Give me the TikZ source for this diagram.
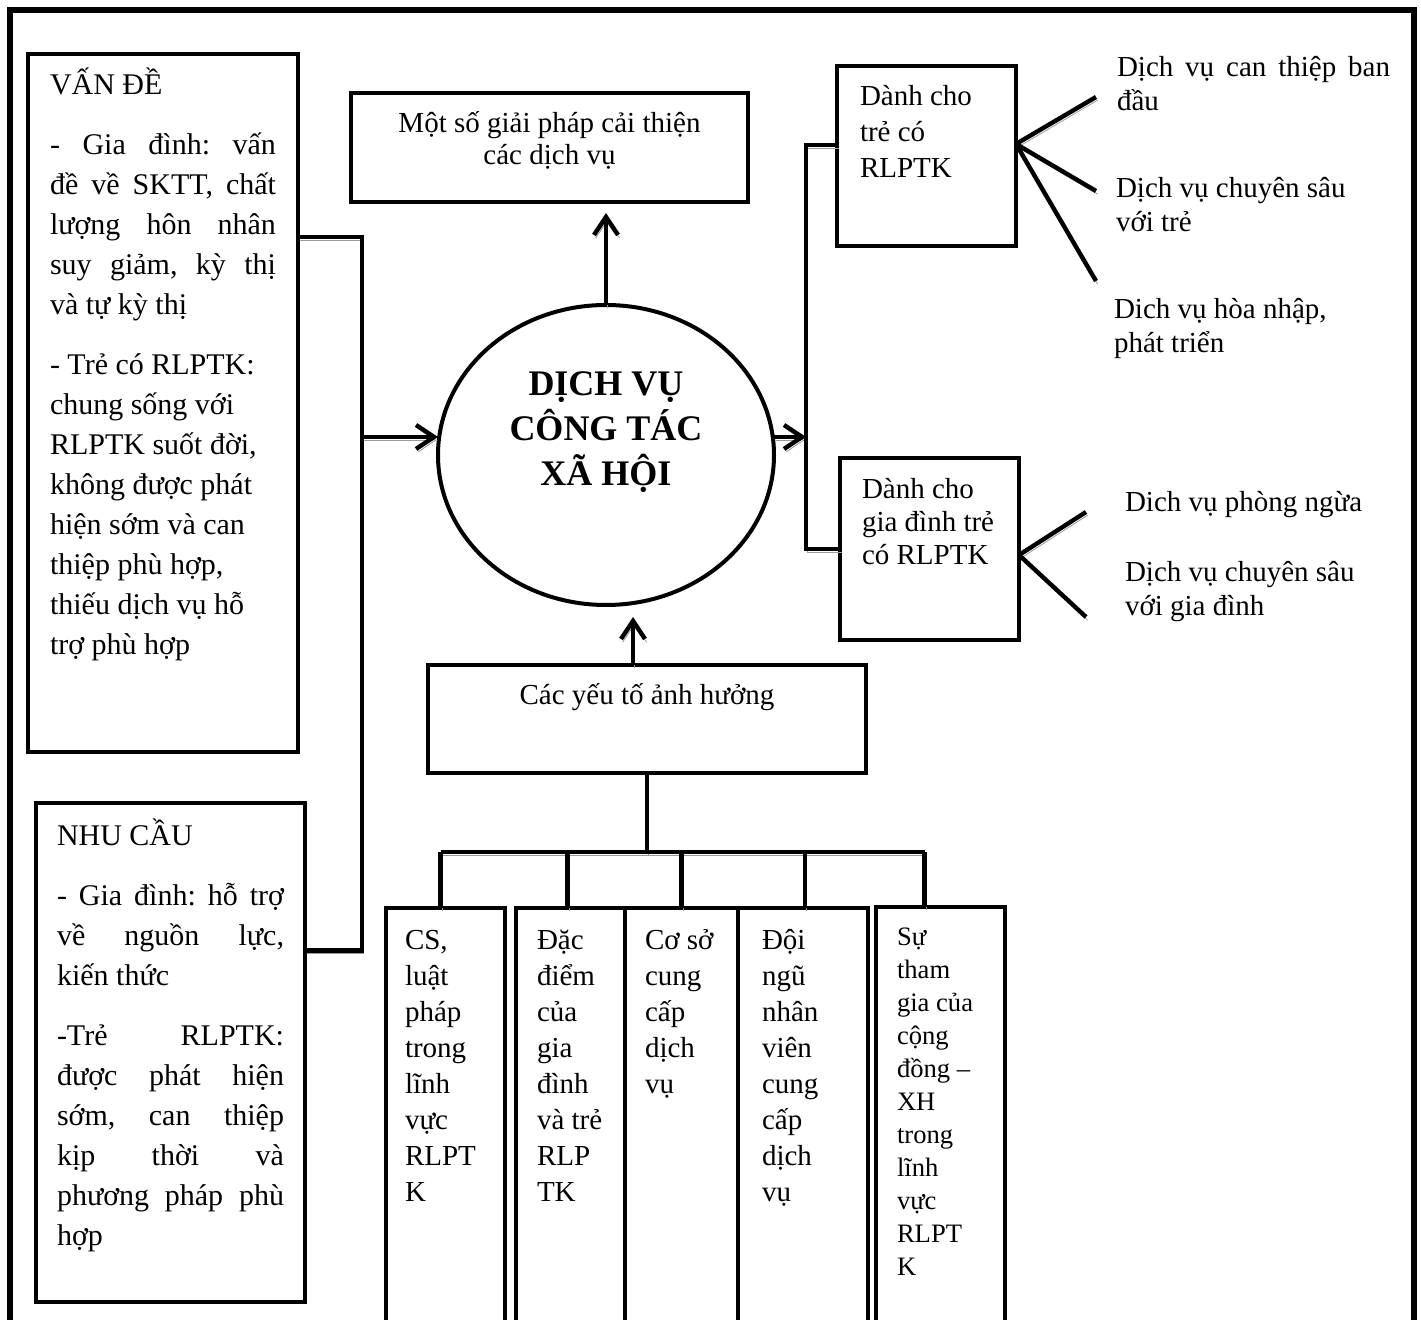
\documentclass[tikz,border=0pt]{standalone}
\usepackage{fontspec}
\setmainfont{Liberation Serif}
\usetikzlibrary{arrows.meta,shapes.geometric,calc}
\hyphenpenalty=10000
\frenchspacing
\definecolor{shade}{HTML}{9A9A9A}

\begin{document}
\begin{tikzpicture}[
  x=0.5pt, y=-0.5pt,
  every node/.style={outer sep=0pt},
  frame/.style={line width=3pt},
  panel/.style={draw, line width=2pt, anchor=north west, inner ysep=0pt},
  hub/.style={draw, ellipse, line width=2pt, minimum width=168pt, minimum height=150pt, inner sep=0pt},
  lbl/.style={anchor=north west, inner sep=0pt, font=\fontsize{14.5}{17}\selectfont},
  link/.style={line width=2.2pt, preaction={draw=shade, transform canvas={shift={(0.8pt,-1.6pt)}}}},
  arrow/.style={link, -{Straight Barb[length=9pt,width=12pt]}}
]
\useasboundingbox (0,0) rectangle (1421,1320);

% Khung ngoài
\draw[frame] (10,1345) -- (10,10) -- (1414,10) -- (1414,1345);

% Cột trái: vấn đề, nhu cầu
\node[panel, inner xsep=11pt] (vande) at (28,54) {\parbox[t][349pt][t]{113pt}{\fontsize{15}{20}\selectfont\setlength{\parskip}{10pt}%
\rule{0pt}{20.5pt}VẤN ĐỀ\par
- Gia đình: vấn\linebreak đề về SKTT, chất\linebreak lượng hôn nhân\linebreak suy giảm, kỳ thị\linebreak và tự kỳ thị\par
- Trẻ có RLPTK:\\ chung sống với\\ RLPTK suốt đời,\\ không được phát\\ hiện sớm và can\\ thiệp phù hợp,\\ thiếu dịch vụ hỗ\\ trợ phù hợp}};
\node[panel, inner xsep=10.5pt] (nhucau) at (36,803) {\parbox[t][249.5pt][t]{113.5pt}{\fontsize{15}{20}\selectfont\setlength{\parskip}{10pt}%
\rule{0pt}{21.5pt}NHU CẦU\par
- Gia đình: hỗ trợ\linebreak về nguồn lực,\linebreak kiến thức\par
-Trẻ RLPTK:\linebreak được phát hiện\linebreak sớm, can thiệp\linebreak kịp thời và\linebreak phương pháp phù\linebreak hợp}};

% Giữa: dịch vụ CTXH
\node[panel, inner xsep=0pt] (gp) at (351,93) {\parbox[t][54.5pt][t]{198.5pt}{\centering\fontsize{14.5}{16}\selectfont\rule{0pt}{20pt}Một số giải pháp cải thiện\\ các dịch vụ}};
\node[hub, label={[font=\fontsize{18}{22.5}\selectfont\bfseries, align=center, yshift=11.5pt]center:{DỊCH VỤ\\CÔNG TÁC\\XÃ HỘI}}] (dvxh) at (606,455) {};
\node[panel, inner xsep=0pt] (yeuto) at (428,665) {\parbox[t][54pt][t]{219pt}{\centering\fontsize{14.5}{17}\selectfont\rule{0pt}{20pt}Các yếu tố ảnh hưởng}};

% Cột phải: đối tượng
\node[panel, inner xsep=11.5pt] (tre) at (837,66) {\parbox[t][90pt][t]{66.5pt}{\fontsize{14.5}{18}\selectfont\rule{0pt}{20pt}Dành cho\\ trẻ có\\ RLPTK}};
\node[panel, inner xsep=11pt] (giadinh) at (840,458) {\parbox[t][91pt][t]{67.5pt}{\fontsize{14.5}{16.5}\selectfont\rule{0pt}{20.5pt}Dành cho\\ gia đình trẻ\\ có RLPTK}};

\node[lbl, text width=136.5pt, align=justify] (dvcan) at (1117,53) {\rule{0pt}{12pt}Dịch vụ can thiệp ban\linebreak đầu};
\node[lbl, align=left] (dvsau) at (1116,174) {\rule{0pt}{12pt}Dịch vụ chuyên sâu\\ với trẻ};
\node[lbl, align=left] (dvhoa) at (1114,295) {\rule{0pt}{12pt}Dich vụ hòa nhập,\\ phát triển};
\node[lbl] (dvphong) at (1125,488) {\rule{0pt}{12pt}Dich vụ phòng ngừa};
\node[lbl, align=left] (dvsaugd) at (1125,558) {\rule{0pt}{12pt}Dịch vụ chuyên sâu\\ với gia đình};

% Hàng dưới: các yếu tố
\node[panel, inner xsep=9.5pt] (cs) at (386,908) {\parbox[t][216pt][t]{40.5pt}{\raggedright\fontsize{14.5}{18}\selectfont\rule{0pt}{21pt}CS,\\ luật\\ pháp\\ trong\\ lĩnh\\ vực\\ RLPT\\ K}};
\node[panel, inner xsep=10.5pt] (dacdiem) at (516,908) {\parbox[t][216pt][t]{33.5pt}{\raggedright\fontsize{14.5}{18}\selectfont\rule{0pt}{21pt}Đặc\\ điểm\\ của\\ gia\\ đình\\ và trẻ\\ RLP\\ TK}};
\node[panel, inner xsep=10pt] (coso) at (625,908) {\parbox[t][216pt][t]{36.5pt}{\raggedright\fontsize{14.5}{18}\selectfont\rule{0pt}{21pt}Cơ sở\\ cung\\ cấp\\ dịch\\ vụ}};
\node[panel, inner xsep=12pt] (doingu) at (738,908) {\parbox[t][216pt][t]{41pt}{\raggedright\fontsize{14.5}{18}\selectfont\rule{0pt}{21pt}Đội\\ ngũ\\ nhân\\ viên\\ cung\\ cấp\\ dịch\\ vụ}};
\node[panel, inner xsep=10.5pt] (sutg) at (876,907) {\parbox[t][216.5pt][t]{43.5pt}{\raggedright\fontsize{13.3}{16.5}\selectfont\rule{0pt}{19.5pt}Sự\\ tham\\ gia của\\ cộng\\ đồng –\\ XH\\ trong\\ lĩnh\\ vực\\ RLPT\\ K}};

% Điểm nối
\coordinate (lbus) at (362,437);
\coordinate (rbus) at (806,437);
\coordinate (bus) at (642,852);
\coordinate (f1) at (1096,97);
\coordinate (f2) at (1096,191);
\coordinate (f3) at (1096,281);
\coordinate (f4) at (1086,512);
\coordinate (f5) at (1086,617);

% Kết nối
\draw[link] ([yshift=83pt]vande.east) -| (lbus) |- ([yshift=51pt]nhucau.east);
\draw[arrow] (lbus) -- (dvxh.west |- lbus);
\draw[arrow, shorten >=5.5pt] (dvxh.north) -- (dvxh.north |- gp.south);
\draw[arrow, shorten >=6pt] ([xshift=-7pt]yeuto.north) -- ([xshift=-7pt]yeuto.north |- dvxh.south);
\draw[arrow] (dvxh.east |- rbus) -- (rbus);
\draw[link] ([yshift=5.5pt]tre.west) -| (rbus) |- (giadinh.west);
\foreach \f in {f1,f2,f3} \draw[link] ([yshift=6pt]tre.east) -- (\f);
\foreach \f in {f4,f5} \draw[link] ([yshift=-3pt]giadinh.east) -- (\f);

\draw[link] (yeuto.south) -- (yeuto.south |- bus);
\draw[link] ([xshift=-2.5pt]cs.north |- bus) -- ([xshift=-8pt]sutg.north |- bus);
\foreach \c/\dx in {cs/-2.5,dacdiem/-1.5,coso/0,doingu/1,sutg/-8}
  \draw[link] ([xshift=\dx pt]\c.north |- bus) -- ([xshift=\dx pt]\c.north);
\end{tikzpicture}
\end{document}
